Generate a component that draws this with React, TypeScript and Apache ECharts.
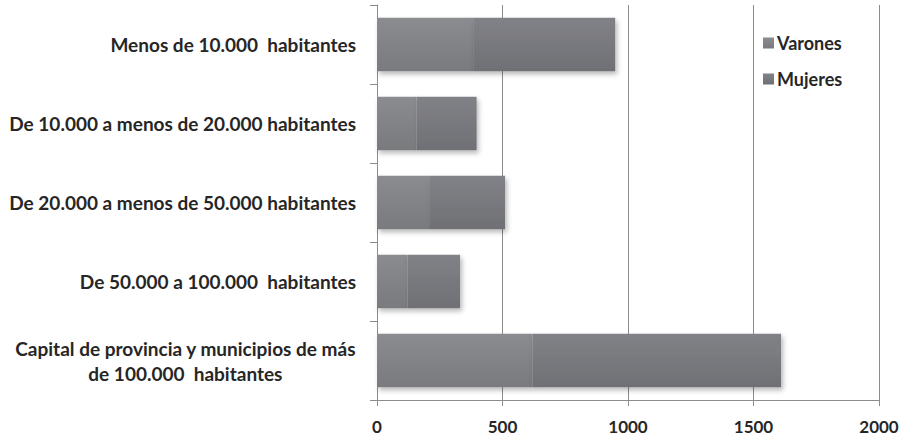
import React, { useEffect, useRef } from "react";
import * as echarts from "echarts";

const categories = [
  "Menos de 10.000  habitantes",
  "De 10.000 a menos de 20.000 habitantes",
  "De 20.000 a menos de 50.000 habitantes",
  "De 50.000 a 100.000  habitantes",
  "Capital de provincia y municipios de más\nde 100.000  habitantes",
];
const varones = [383, 158, 211, 122, 619];
const mujeres = [566, 239, 299, 209, 991];
const seriesNames = ["Varones", "Mujeres"];

const FONT = "Lato, 'Open Sans', sans-serif";
const TXT = "#262626";

export default function App() {
  const ref = useRef<HTMLDivElement>(null);
  useEffect(() => {
    if (!ref.current) return;
    const chart = echarts.init(ref.current, null, { renderer: "svg" });
    const grad = (top: string, bottom: string) =>
      new echarts.graphic.LinearGradient(0, 0, 0, 1, [
        { offset: 0, color: top },
        { offset: 1, color: bottom },
      ]);
    const shadow = {
      shadowBlur: 5,
      shadowOffsetX: 2,
      shadowOffsetY: 3,
      shadowColor: "rgba(0,0,0,0.28)",
    };
    chart.setOption({
      animation: false,
      backgroundColor: "#ffffff",
      grid: { left: 377, right: 26, top: 5, bottom: 40, containLabel: false },
      legend: {
        orient: "vertical",
        left: 763,
        top: 34,
        padding: 0,
        itemWidth: 11,
        itemHeight: 11,
        itemGap: 18,
        icon: "rect",
        textStyle: { fontFamily: FONT, fontWeight: "bold", fontSize: 18, color: TXT, padding: [0, 0, 0, -2] },
        data: seriesNames,
      },
      xAxis: {
        type: "value",
        min: 0,
        max: 2000,
        interval: 500,
        axisLine: { show: true, lineStyle: { color: "#8c8c8c", width: 1 } },
        axisTick: { show: true, length: 6, lineStyle: { color: "#8c8c8c" } },
        splitLine: { show: true, lineStyle: { color: "#8c8c8c", width: 1 } },
        axisLabel: {
          fontFamily: FONT,
          fontWeight: "bold",
          fontSize: 17,
          color: TXT,
          margin: 18,
          formatter: (v: number) => String(v),
        },
      },
      yAxis: {
        type: "category",
        inverse: true,
        data: categories,
        axisLine: { show: true, lineStyle: { color: "#8c8c8c", width: 1 } },
        axisTick: { show: true, length: 7, lineStyle: { color: "#8c8c8c" } },
        axisLabel: {
          margin: 21,
          fontFamily: FONT,
          fontWeight: "bold",
          fontSize: 19,
          color: TXT,
          lineHeight: 25,
          formatter: (v: string) =>
            v
              .split("\n")
              .map((l) => `{c|${l}}`)
              .join("\n"),
          rich: {
            c: {
              align: "center",
              fontFamily: FONT,
              fontWeight: "bold",
              fontSize: 19,
              color: TXT,
              lineHeight: 25,
            },
          },
        },
      },
      series: [
        {
          name: seriesNames[0],
          type: "bar",
          stack: "total",
          barCategoryGap: "32%",
          data: varones,
          itemStyle: { color: grad("#8b8c90", "#797a7e"), ...shadow },
        },
        {
          name: seriesNames[1],
          type: "bar",
          stack: "total",
          barCategoryGap: "32%",
          data: mujeres,
          itemStyle: { color: grad("#818287", "#6f7075"), ...shadow },
        },
      ],
    });
    return () => chart.dispose();
  }, []);
  return (
    <div
      ref={ref}
      style={{ position: "absolute", left: 0, top: 0, width: 905, height: 440 }}
    />
  );
}
